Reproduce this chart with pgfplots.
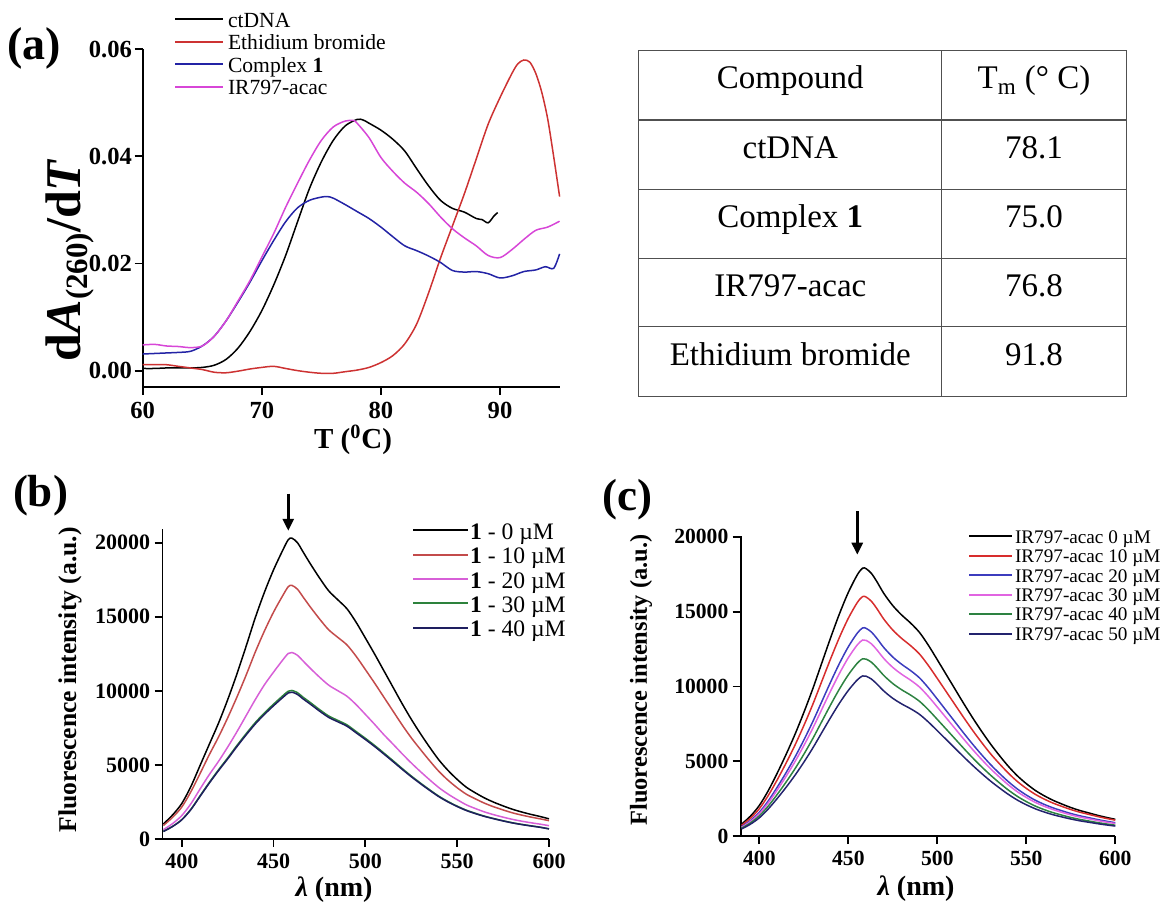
\documentclass[border=0pt]{standalone}
\usepackage{fontspec}
\setmainfont{Liberation Serif}
\usepackage{pgfplots}
\usepackage{pgfplotstable}
\pgfplotsset{compat=1.18}
\usetikzlibrary{arrows.meta}

\definecolor{aRed}{RGB}{205,50,50}
\definecolor{aBlue}{RGB}{35,35,165}
\definecolor{aMag}{RGB}{215,70,215}
\definecolor{bRed}{RGB}{195,75,75}
\definecolor{bMag}{RGB}{215,95,215}
\definecolor{bGreen}{RGB}{45,130,60}
\definecolor{bNavy}{RGB}{30,30,95}
\definecolor{cRed}{RGB}{215,45,45}
\definecolor{cBlue}{RGB}{60,60,190}
\definecolor{cMag}{RGB}{225,100,225}
\definecolor{cGreen}{RGB}{45,130,65}
\definecolor{cNavy}{RGB}{35,35,110}
\definecolor{tblline}{RGB}{80,80,80}

\pgfplotstableread{
lam s0 s10 s20 s30 s40
390 1015 914 629 514 508
395 1624 1462 1039 854 844
400 2395 2156 1581 1309 1293
405 3553 3198 2381 2014 1990
410 4974 4427 3382 2920 2885
415 6395 5692 4349 3818 3773
420 7816 6878 5237 4666 4611
425 9399 8177 6203 5469 5404
430 11124 9567 7231 6304 6229
435 12992 11043 8315 7100 7016
440 14921 12608 9400 7852 7759
445 16646 14033 10404 8507 8406
450 18169 15316 11265 9102 8994
455 19488 16428 12083 9664 9549
458 20199 17028 12523 9975 9857
460 20300 17113 12586 10025 9906
463 19996 16857 12398 9875 9758
466 19387 16343 12020 9575 9461
470 18575 15659 11517 9211 9102
475 17620 14854 10924 8738 8634
480 16748 14119 10384 8305 8207
485 16139 13605 10006 8003 7908
490 15530 13092 9629 7701 7610
495 14616 12321 9062 7248 7162
500 13560 11431 8407 6793 6712
505 12485 10525 7741 6318 6243
510 11368 9583 7048 5810 5741
515 10252 8642 6408 5292 5229
520 9135 7701 5755 4761 4705
525 8079 6827 5130 4251 4201
530 7105 6039 4547 3775 3730
535 6192 5279 3994 3321 3282
540 5339 4565 3470 2890 2856
545 4628 3968 3031 2529 2499
550 4019 3456 2653 2216 2190
555 3492 3021 2305 1944 1921
560 3106 2702 2050 1729 1708
565 2761 2409 1822 1537 1519
570 2477 2167 1635 1378 1362
575 2233 1960 1474 1232 1217
580 2010 1769 1327 1098 1085
585 1827 1617 1206 989 977
590 1665 1482 1099 893 882
595 1523 1363 1005 802 792
600 1360 1238 898 688 680
}\tableB

\pgfplotstableread{
lam c0 c10 c20 c30 c40 c50
390 806 721 626 590 534 482
395 1343 1201 1043 983 889 803
400 2059 1841 1600 1507 1363 1231
405 3043 2720 2364 2227 2014 1820
410 4207 3761 3269 3080 2785 2516
415 5460 4881 4242 3997 3615 3265
420 6802 6081 5285 4979 4503 4068
425 8270 7393 6426 6054 5475 4945
430 9845 8801 7650 7207 6517 5887
435 11546 10322 8971 8452 7643 6905
440 13246 11842 10292 9696 8769 7921
445 14857 13282 11544 10875 9835 8884
450 16289 14562 12657 11924 10783 9741
455 17453 15603 13561 12776 11554 10437
458 17900 16003 13908 13103 11850 10704
460 17864 15970 13880 13076 11826 10683
463 17542 15683 13630 12841 11613 10490
466 17005 15202 13213 12448 11257 10169
470 16200 14483 12587 11858 10724 9688
475 15394 13762 11961 11268 10191 9206
480 14768 13203 11475 10810 9776 8831
485 14231 12723 11057 10417 9421 8510
490 13604 12162 10570 9958 9006 8135
495 12745 11394 9903 9329 8437 7622
500 11778 10530 9151 8621 7797 7043
505 10794 9650 8387 7901 7146 6455
510 9809 8769 7622 7180 6494 5866
515 8825 7890 6857 6460 5842 5277
520 7876 7041 6120 5765 5214 4710
525 6981 6241 5424 5110 4621 4175
530 6140 5489 4771 4494 4065 3672
535 5370 4822 4181 3938 3550 3212
540 4654 4198 3632 3419 3073 2784
545 4028 3649 3150 2964 2656 2410
550 3508 3192 2749 2586 2310 2099
555 3061 2798 2404 2260 2013 1832
560 2703 2481 2127 1999 1776 1618
565 2399 2212 1892 1778 1574 1436
570 2148 1989 1697 1594 1407 1286
575 1915 1781 1516 1424 1253 1147
580 1718 1605 1363 1280 1123 1029
585 1557 1460 1238 1162 1016 933
590 1396 1315 1112 1043 910 837
595 1253 1185 1000 938 816 751
600 1128 1072 902 846 733 677
}\tableC

\pgfplotsset{
  panel/.style={
    scale only axis,
    axis x line*=bottom, axis y line*=left,
    axis line style={line width=0.9pt},
    tick style={line width=0.9pt, black},
    major tick length=4pt,
    tick align=outside,
    clip=false,
    scaled ticks=false,
    /pgf/number format/assume math mode=true,
    /pgf/number format/set thousands separator={},
    legend cell align=left,
    every axis plot/.append style={line width=0.75pt},
  }
}

\begin{document}
\begin{tikzpicture}
\useasboundingbox (0pt,0pt) rectangle (583.5pt,451.5pt);

% ---------- panel (a)
\begin{axis}[panel,
  at={(71.35pt,258.15pt)}, anchor=south west,
  width=208.45pt, height=168.7pt,
  xmin=60, xmax=95, ymin=-0.003, ymax=0.06,
  xtick={60,70,80,90}, ytick={0,0.02,0.04,0.06},
  ticklabel style={font=\bfseries\fontsize{12.3}{14}\selectfont},
  yticklabel style={/pgf/number format/fixed, /pgf/number format/fixed zerofill, /pgf/number format/precision=2, inner sep=1.2pt},
  legend style={at={(axis description cs:0.0751,1.1231)}, anchor=north west, draw=none, fill=none,
    inner sep=0pt, outer sep=0pt, column sep=2pt,
    font=\fontsize{10.8}{12}\selectfont, nodes={inner sep=0pt}},
  legend image code/.code={\draw[#1, line width=1pt] (0pt,0pt) -- (24pt,0pt);},
]
\addplot[black, smooth] coordinates {
(60,0.0004) (61,0.0004) (62,0.0005) (63,0.0005) (64,0.0005) (65,0.0006) (66,0.0010) (67,0.0021)
(68,0.0042) (69,0.0073) (70,0.0112) (71,0.0160) (72,0.0215) (73,0.0278) (74,0.0340) (75,0.0390)
(76,0.0430) (77,0.0457) (78,0.0469) (78.5,0.0468) (79,0.0462) (80,0.0449) (81,0.0432) (82,0.0410)
(83,0.0377) (84,0.0345) (85,0.0318) (86,0.0303) (87,0.0296) (88,0.0284) (88.5,0.0282) (89,0.0276)
(89.5,0.0289) (89.8,0.0295)};
\addlegendentry{\rule[-3.975pt]{0pt}{13.75pt}ctDNA}
\addplot[aRed, smooth] coordinates {
(60,0.0011) (61,0.0011) (62,0.0011) (63,0.0008) (64,0.0005) (65,0.0002) (66,-0.0003) (67,-0.0004)
(68,-0.0001) (69,0.0003) (70,0.0006) (71,0.0008) (72,0.0004) (73,0.0000) (74,-0.0003) (75,-0.0005)
(76,-0.0005) (77,-0.0002) (78,0.0001) (79,0.0006) (80,0.0015) (81,0.0028) (82,0.0050) (83,0.0087)
(84,0.0145) (85,0.0210) (86,0.0270) (87,0.0330) (88,0.0395) (89,0.0460) (90,0.0510) (91,0.0555)
(91.5,0.0573) (92,0.0580) (92.5,0.0576) (93,0.0555) (93.5,0.0520) (94,0.0470) (94.5,0.0400) (95,0.0325)};
\addlegendentry{\rule[-3.975pt]{0pt}{13.75pt}Ethidium bromide}
\addplot[aBlue, smooth] coordinates {
(60,0.0031) (61,0.0032) (62,0.0033) (63,0.0034) (64,0.0036) (65,0.0046) (66,0.0064) (67,0.0093)
(68,0.0128) (69,0.0165) (70,0.0205) (71,0.0243) (72,0.0278) (73,0.0304) (74,0.0318) (75,0.0324)
(75.5,0.0325) (76,0.0322) (77,0.0310) (78,0.0297) (79,0.0284) (80,0.0268) (81,0.0250) (82,0.0233)
(83,0.0224) (84,0.0214) (85,0.0202) (86,0.0187) (87,0.0184) (88,0.0185) (89,0.0181) (90,0.0173)
(91,0.0177) (92,0.0185) (93,0.0188) (93.8,0.0194) (94.5,0.0191) (95,0.0218)};
\addlegendentry{\rule[-3.975pt]{0pt}{13.75pt}Complex \textbf{1}}
\addplot[aMag, smooth] coordinates {
(60,0.0048) (61,0.0049) (62,0.0046) (63,0.0045) (64,0.0043) (65,0.0046) (66,0.0064) (67,0.0093)
(68,0.0130) (69,0.0168) (70,0.0212) (71,0.0256) (72,0.0305) (73,0.0350) (74,0.0393) (75,0.0430)
(76,0.0455) (77,0.0466) (77.7,0.0467) (78,0.0462) (79,0.0435) (80,0.0398) (81,0.0372) (82,0.0350)
(83,0.0333) (84,0.0312) (85,0.0287) (86,0.0265) (87,0.0248) (88,0.0233) (89,0.0215) (90,0.0211)
(91,0.0226) (92,0.0245) (93,0.0262) (94,0.0268) (95,0.0279)};
\addlegendentry{\rule[-3.975pt]{0pt}{13.75pt}IR797-acac}
\end{axis}

% ---------- panel (b)
\begin{axis}[panel,
  at={(81.25pt,32pt)}, anchor=south west,
  width=193.25pt, height=154.85pt,
  xmin=389.5, xmax=600, ymin=0, ymax=20900,
  xtick={400,450,...,600}, ytick={0,5000,...,20000},
  ticklabel style={font=\bfseries\fontsize{11}{13}\selectfont},
  yticklabel style={inner sep=2pt},
  legend style={at={(axis description cs:0.6463,1.0365)}, anchor=north west, draw=none, fill=none,
    inner sep=0pt, outer sep=0pt, column sep=0.7pt,
    font=\fontsize{11.8}{13}\selectfont, nodes={inner sep=0pt}},
  legend image code/.code={\draw[#1, line width=1pt] (0pt,0pt) -- (27.2pt,0pt);},
]
\addplot[black, smooth] table[x=lam, y=s0] {\tableB};
\addlegendentry{\rule[-4.3pt]{0pt}{15pt}\textbf{1} - 0 µM}
\addplot[bRed, smooth] table[x=lam, y=s10] {\tableB};
\addlegendentry{\rule[-4.3pt]{0pt}{15pt}\textbf{1} - 10 µM}
\addplot[bMag, smooth] table[x=lam, y=s20] {\tableB};
\addlegendentry{\rule[-4.3pt]{0pt}{15pt}\textbf{1} - 20 µM}
\addplot[bGreen, smooth] table[x=lam, y=s30] {\tableB};
\addlegendentry{\rule[-4.3pt]{0pt}{15pt}\textbf{1} - 30 µM}
\addplot[bNavy, smooth] table[x=lam, y=s40] {\tableB};
\addlegendentry{\rule[-4.3pt]{0pt}{15pt}\textbf{1} - 40 µM}
\draw[line width=1.4pt, -{Triangle[length=6pt,width=5.5pt]}] (axis cs:458,23300) -- (axis cs:458,20800);
\end{axis}

% ---------- panel (c)
\begin{axis}[panel,
  at={(370.35pt,33.4pt)}, anchor=south west,
  width=187.3pt, height=150.25pt,
  xmin=389.5, xmax=600, ymin=0, ymax=20070,
  xtick={400,450,...,600}, ytick={0,5000,...,20000},
  ticklabel style={font=\bfseries\fontsize{10.8}{13}\selectfont},
  yticklabel style={inner sep=2pt},
  legend style={at={(axis description cs:0.6076,1.0298)}, anchor=north west, draw=none, fill=none,
    inner sep=0pt, outer sep=0pt, column sep=1.15pt,
    font=\fontsize{9.6}{11}\selectfont, nodes={inner sep=0pt}},
  legend image code/.code={\draw[#1, line width=1pt] (0pt,0pt) -- (21.2pt,0pt);},
]
\addplot[black, smooth] table[x=lam, y=c0] {\tableC};
\addlegendentry{\rule[-3.025pt]{0pt}{11.25pt}IR797-acac 0 µM}
\addplot[cRed, smooth] table[x=lam, y=c10] {\tableC};
\addlegendentry{\rule[-3.025pt]{0pt}{11.25pt}IR797-acac 10 µM}
\addplot[cBlue, smooth] table[x=lam, y=c20] {\tableC};
\addlegendentry{\rule[-3.025pt]{0pt}{11.25pt}IR797-acac 20 µM}
\addplot[cMag, smooth] table[x=lam, y=c30] {\tableC};
\addlegendentry{\rule[-3.025pt]{0pt}{11.25pt}IR797-acac 30 µM}
\addplot[cGreen, smooth] table[x=lam, y=c40] {\tableC};
\addlegendentry{\rule[-3.025pt]{0pt}{11.25pt}IR797-acac 40 µM}
\addplot[cNavy, smooth] table[x=lam, y=c50] {\tableC};
\addlegendentry{\rule[-3.025pt]{0pt}{11.25pt}IR797-acac 50 µM}
\draw[line width=1.4pt, -{Triangle[length=6pt,width=5.5pt]}] (axis cs:455,21700) -- (axis cs:455,18800);
\end{axis}

\begin{scope}[x=0.5pt,y=0.5pt]
% ---------- labels
\node[font=\bfseries\fontsize{23}{27}\selectfont] at (34,855) {(a)};
\node[font=\bfseries\fontsize{22.5}{27}\selectfont] at (40.5,407) {(b)};
\node[font=\bfseries\fontsize{22.5}{27}\selectfont] at (627,403) {(c)};
\node[rotate=90, anchor=base, inner sep=0pt, font=\bfseries\fontsize{25}{29}\selectfont] at (80,643) {d\textit{A}\raisebox{-0.14em}{\fontsize{15.5}{16}\selectfont (260)}/d\textit{T}};
\node[font=\bfseries\fontsize{14.5}{17}\selectfont] at (353,463) {T (\textsuperscript{0}C)};
\node[rotate=90, font=\bfseries\fontsize{12.8}{15}\selectfont] at (70,223) {Fluorescence intensity (a.u.)};
\node[rotate=90, font=\bfseries\fontsize{12.2}{15}\selectfont] at (641,223) {Fluorescence intensity (a.u.)};
\node[font=\bfseries\fontsize{14}{16}\selectfont] at (334,13) {\textit{λ} (nm)};
\node[font=\bfseries\fontsize{14}{16}\selectfont] at (916,14) {\textit{λ} (nm)};

% ---------- table
\draw[line width=0.6pt, tblline] (638.7,506.3) rectangle (1126.2,852.3);
\draw[line width=0.6pt, tblline] (941.8,506.3) -- (941.8,852.3);
\foreach \yy in {783,713.7,644.7,576.3} {\draw[line width=0.6pt, tblline] (638.7,\yy) -- (1126.2,\yy);}
\begin{scope}[every node/.style={anchor=base, font=\fontsize{16.5}{19}\selectfont, inner sep=0pt}]
\node at (790.3,814) {Compound};
\node at (1034,814) {T\textsubscript{m} (° C)};
\node at (790.3,744.5) {ctDNA};
\node at (1034,744.5) {78.1};
\node at (790.3,675.5) {Complex \textbf{1}};
\node at (1034,675.5) {75.0};
\node at (790.3,606.5) {IR797-acac};
\node at (1034,606.5) {76.8};
\node at (790.3,537.5) {Ethidium bromide};
\node at (1034,537.5) {91.8};
\end{scope}
\end{scope}
\end{tikzpicture}
\end{document}
